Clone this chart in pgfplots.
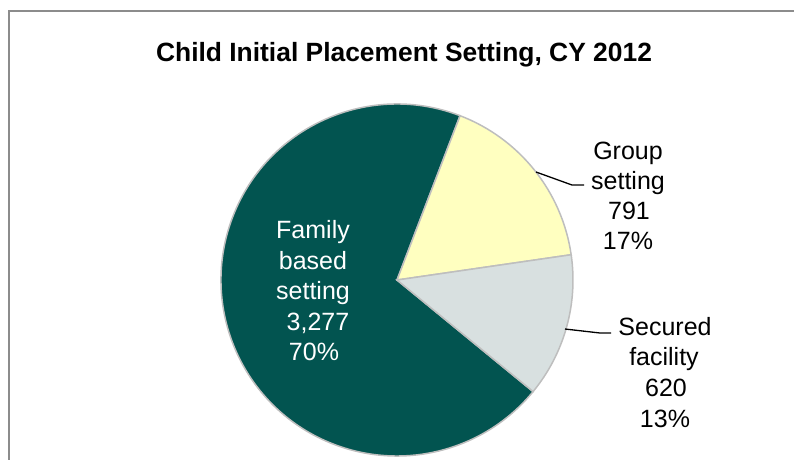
\documentclass[border=0pt]{standalone}
\usepackage{pgfplots}
\pgfplotsset{compat=1.18}
\usepackage{pgfplotstable}
\usepackage{fontspec}
\setmainfont{Liberation Sans}
\definecolor{famTeal}{RGB}{2,84,80}
\definecolor{grpYellow}{RGB}{255,255,192}
\definecolor{secGrey}{RGB}{216,224,224}
\definecolor{rimGrey}{RGB}{190,190,190}
\definecolor{frameGrey}{RGB}{140,140,140}

% placements, CY 2012
\pgfplotstableread{
slice value
group 791
secured 620
family 3277
}\piedata

\begin{document}
\begin{tikzpicture}
\pgfplotstablegetelem{0}{value}\of\piedata \let\vGroup\pgfplotsretval
\pgfplotstablegetelem{1}{value}\of\piedata \let\vSecured\pgfplotsretval
\pgfplotstablegetelem{2}{value}\of\piedata \let\vFamily\pgfplotsretval
\pgfmathsetmacro{\total}{\vGroup+\vSecured+\vFamily}
\pgfmathsetmacro{\aGroup}{360*(\vGroup/\total)}
\pgfmathsetmacro{\aSecured}{360*(\vSecured/\total)}
\pgfmathsetmacro{\aFamily}{360*(\vFamily/\total)}
\pgfmathsetmacro{\aStart}{69}
\pgfmathsetmacro{\aMid}{\aStart-\aGroup}
\def\R{176pt}
\begin{axis}[
	scale only axis,
	width=794pt, height=459pt,
	xmin=0, xmax=794, ymin=0, ymax=459,
	y dir=reverse,
	hide axis,
	clip=false,
]
% frame
\draw[frameGrey, line width=2pt] (axis cs:9,11) rectangle (axis cs:830,490);
% slices
\filldraw[fill=famTeal, draw=rimGrey, line width=1.5pt] (axis cs:397,280) -- ++(\aStart:\R)
	arc[start angle=\aStart, delta angle=\aFamily, radius=\R] -- cycle;
\filldraw[fill=grpYellow, draw=rimGrey, line width=1.5pt] (axis cs:397,280) -- ++(\aStart:\R)
	arc[start angle=\aStart, delta angle=-\aGroup, radius=\R] -- cycle;
\filldraw[fill=secGrey, draw=rimGrey, line width=1.5pt] (axis cs:397,280) -- ++(\aMid:\R)
	arc[start angle=\aMid, delta angle=-\aSecured, radius=\R] -- cycle;
% leader lines
\draw[black, line width=1.3pt] (axis cs:536,172) -- (axis cs:572,185) -- (axis cs:584,185);
\draw[black, line width=1.3pt] (axis cs:565,329) -- (axis cs:600,333) -- (axis cs:611,333);
% title
\node[anchor=base, font=\fontsize{26.4}{30}\bfseries] at (axis cs:404,61) {Child Initial Placement Setting, CY 2012};
% labels
\begin{scope}[every node/.style={anchor=base, inner sep=0pt, font=\fontsize{25}{30}\selectfont}]
\node at (axis cs:628,159) {Group};
\node at (axis cs:628,189) {setting};
\node at (axis cs:629,219) {791};
\node at (axis cs:628,249) {17\%};
\node at (axis cs:665,335) {Secured};
\node at (axis cs:664,365) {facility};
\node at (axis cs:666,396) {620};
\node at (axis cs:665,427) {13\%};
\node[text=white] at (axis cs:313,238) {Family};
\node[text=white] at (axis cs:313,269) {based};
\node[text=white] at (axis cs:313,299) {setting};
\node[text=white] at (axis cs:318,330) {3,277};
\node[text=white] at (axis cs:314,360) {70\%};
\end{scope}
\end{axis}
\pgfresetboundingbox
\path[use as bounding box] (current axis.south west) rectangle (current axis.north east);
\end{tikzpicture}
\end{document}
